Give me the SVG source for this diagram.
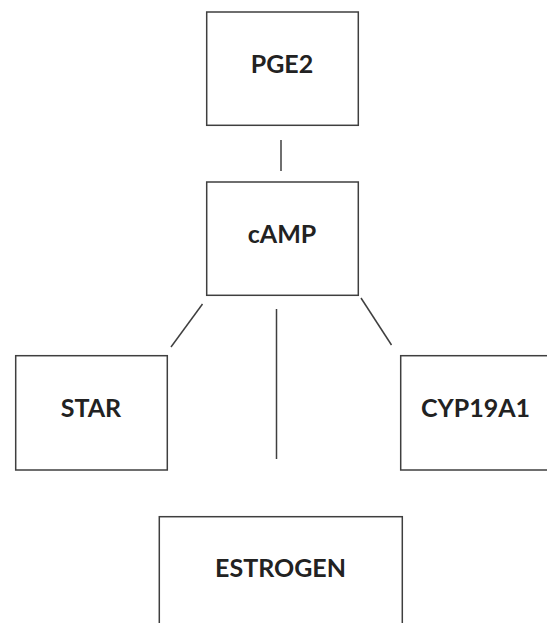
<svg xmlns="http://www.w3.org/2000/svg" width="547" height="623" viewBox="0 0 547 623">
<style>
.box{fill:#fff;stroke:#3f3f3f;stroke-width:1.5}
.lbl{font-family:Lato,"Liberation Sans",sans-serif;font-weight:bold;font-size:25px;fill:#222;text-anchor:middle}
.edge{stroke:#3f3f3f;stroke-width:1.5;fill:none}
</style>
<rect width="547" height="623" fill="#fff"/>
<g id="connectors">
<line class="edge" x1="281" y1="140" x2="281" y2="171"/>
<line class="edge" x1="202.5" y1="304" x2="171" y2="347"/>
<line class="edge" x1="276.5" y1="309" x2="276.5" y2="459"/>
<line class="edge" x1="361" y1="298" x2="391.5" y2="345"/>
</g>
<g id="PGE2"><rect class="box" x="206.7" y="12" width="151.6" height="113.3"/><text class="lbl" x="282" y="72.7">PGE2</text></g>
<g id="cAMP"><rect class="box" x="206.7" y="182" width="151.6" height="113.3"/><text class="lbl" x="282" y="242.7">cAMP</text></g>
<g id="STAR"><rect class="box" x="15.7" y="355.7" width="151.6" height="114.3"/><text class="lbl" x="91" y="416.7">STAR</text></g>
<g id="CYP19A1"><rect class="box" x="400.7" y="355.7" width="151.6" height="114.3"/><text class="lbl" x="475.5" y="417">CYP19A1</text></g>
<g id="ESTROGEN"><rect class="box" x="159.3" y="516.7" width="243" height="120"/><text class="lbl" x="280.5" y="576.7">ESTROGEN</text></g>
</svg>
